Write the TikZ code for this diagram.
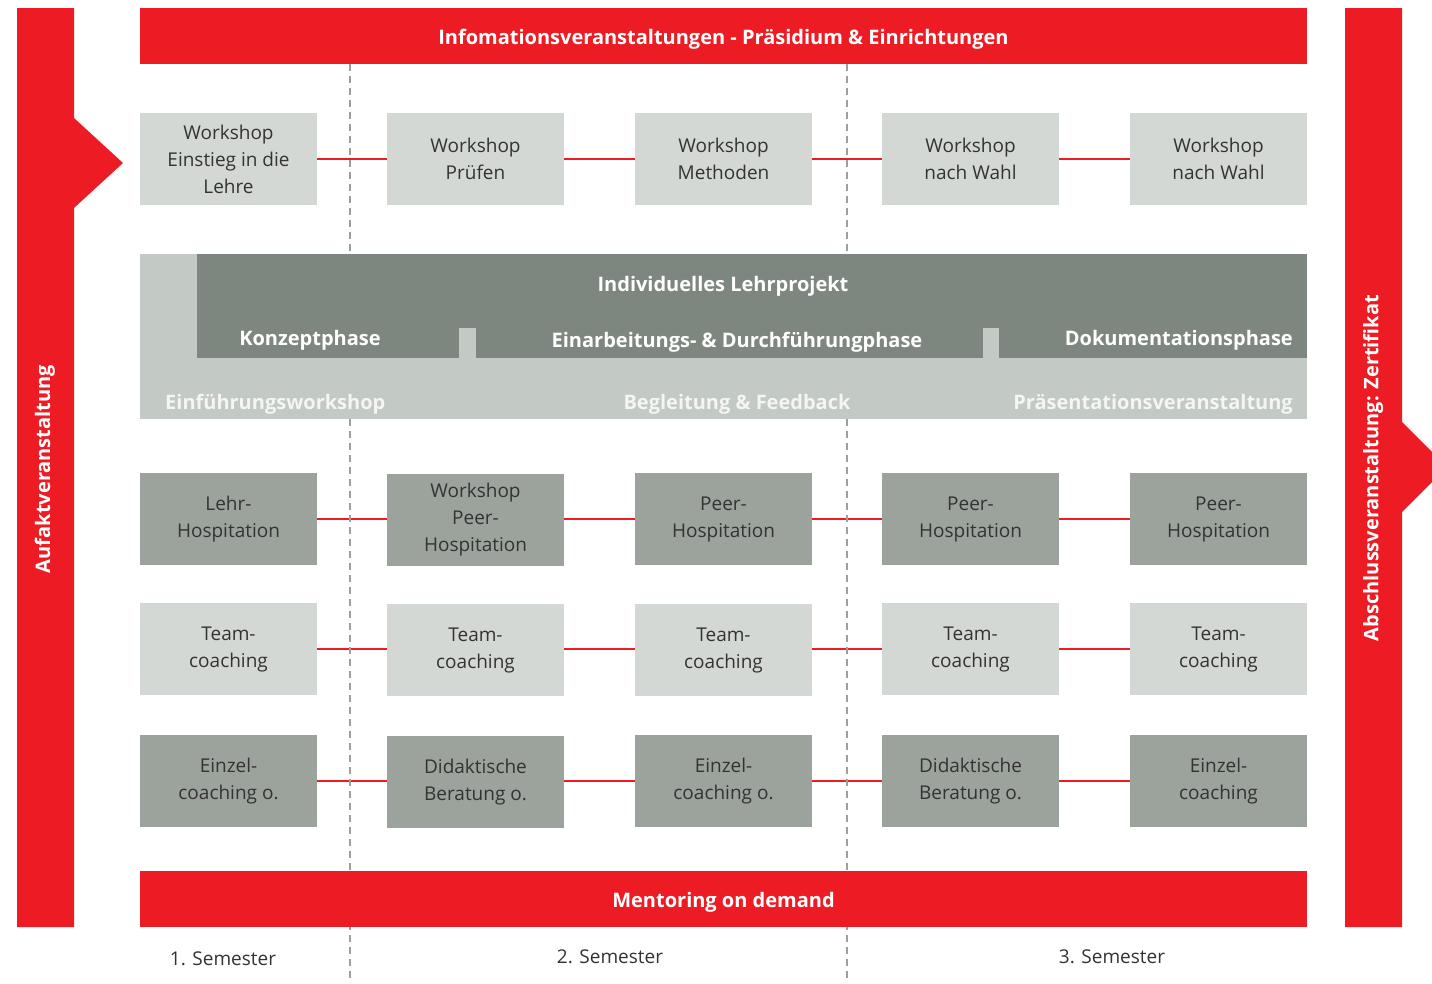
\documentclass[tikz,border=0pt]{standalone}
\usepackage{fontspec}
\setmainfont{Open Sans}
\definecolor{cred}{HTML}{ED1C24}
\definecolor{clight}{HTML}{D4D8D5}
\definecolor{cdark}{HTML}{9BA39C}
\definecolor{cmidl}{HTML}{C3C9C4}
\definecolor{cmidd}{HTML}{7E877F}
\definecolor{cdash}{HTML}{9AA09C}
\definecolor{ctext}{HTML}{333333}
\definecolor{cwhite}{HTML}{F4F5F4}
\begin{document}
\begin{tikzpicture}[x=1pt,y=-1pt,
  box/.style={minimum width=177pt,minimum height=92pt,inner sep=0pt,align=center,text=ctext,font=\fontsize{19}{27}\selectfont},
  lbox/.style={box,fill=clight},
  dbox/.style={box,fill=cdark},
  conn/.style={draw=cred,line width=2pt},
  sep/.style={draw=cdash,line width=2.8pt,dash pattern=on 7pt off 5pt},
  bartext/.style={text=white,font=\fontsize{20}{24}\selectfont\bfseries,inner sep=0pt,yshift=-2pt},
  midtext/.style={text=cwhite,font=\fontsize{20}{24}\selectfont\bfseries,inner sep=0pt,yshift=-2pt},
  semtext/.style={text=ctext,font=\fontsize{19}{24}\selectfont,inner sep=0pt}]
\useasboundingbox (0,0) rectangle (1432,983);
% side bars
\fill[cred] (17,8) -- (74,8) -- (74,118) -- (123,163) -- (74,208) -- (74,927) -- (17,927) -- cycle;
\fill[cred] (1345,8) -- (1402,8) -- (1402,422) -- (1447,467) -- (1402,512) -- (1402,927) -- (1345,927) -- cycle;
\node[bartext,rotate=90] (auf) at (45,467) {Aufaktveranstaltung};
\node[bartext,rotate=90] (absch) at (1373,466) {Abschlussveranstaltung: Zertifikat};
% boxes
\node[lbox] (a1) at (228.5,159) {Workshop\\Einstieg in die\\Lehre};
\node[lbox] (a2) at (475.5,159) {Workshop\\Prüfen};
\node[lbox] (a3) at (723.5,159) {Workshop\\Methoden};
\node[lbox] (a4) at (970.5,159) {Workshop\\nach Wahl};
\node[lbox] (a5) at (1218.5,159) {Workshop\\nach Wahl};
\node[dbox] (b1) at (228.5,519) {Lehr-\\Hospitation};
\node[dbox] (b2) at (475.5,520) {Workshop\\Peer-\\Hospitation};
\node[dbox] (b3) at (723.5,519) {Peer-\\Hospitation};
\node[dbox] (b4) at (970.5,519) {Peer-\\Hospitation};
\node[dbox] (b5) at (1218.5,519) {Peer-\\Hospitation};
\node[lbox] (t1) at (228.5,649) {Team-\\coaching};
\node[lbox] (t2) at (475.5,650) {Team-\\coaching};
\node[lbox] (t3) at (723.5,650) {Team-\\coaching};
\node[lbox] (t4) at (970.5,649) {Team-\\coaching};
\node[lbox] (t5) at (1218.5,649) {Team-\\coaching};
\node[dbox] (e1) at (228.5,781) {Einzel-\\coaching o.};
\node[dbox] (e2) at (475.5,782) {Didaktische\\Beratung o.};
\node[dbox] (e3) at (723.5,781) {Einzel-\\coaching o.};
\node[dbox] (e4) at (970.5,781) {Didaktische\\Beratung o.};
\node[dbox] (e5) at (1218.5,781) {Einzel-\\coaching};
% connectors (horizontal)
\foreach \r in {a,b,t,e}{
  \draw[conn] (\r1.east) -- (\r1.east -| \r2.west);
  \draw[conn] (\r2.east |- \r1.east) -- (\r3.west |- \r1.east);
  \draw[conn] (\r3.east |- \r1.east) -- (\r4.west |- \r1.east);
  \draw[conn] (\r4.east |- \r1.east) -- (\r5.west);}
% dashed separators
\coordinate (s1t) at (350,64); \coordinate (s1m) at (350,254);
\coordinate (s1n) at (350,419); \coordinate (s1b) at (350,983);
\coordinate (s2t) at (847,64); \coordinate (s2m) at (847,254);
\coordinate (s2n) at (847,419); \coordinate (s2b) at (847,983);
\draw[sep] (s1t) -- (s1m); \draw[sep] (s1n) -- (s1b);
\draw[sep] (s2t) -- (s2m); \draw[sep] (s2n) -- (s2b);
% top and bottom bars
\node[fill=cred,minimum width=1167pt,minimum height=56pt,inner sep=0pt,anchor=north west] (top) at (140,8) {};
\node[bartext] (toptext) at (723.5,37) {Infomationsveranstaltungen - Präsidium \& Einrichtungen};
\node[fill=cred,minimum width=1167pt,minimum height=56pt,inner sep=0pt,anchor=north west] (bot) at (140,871) {};
\node[bartext] (bottext) at (723.5,900) {Mentoring on demand};
% middle block
\fill[cmidl] (140,254) rectangle (1307,419);
\fill[cmidd] (197,254) rectangle (1307,358);
\fill[cmidl] (459,328) rectangle (476,358);
\fill[cmidl] (983,328) rectangle (999,358);
\node[midtext,text=white] (ilp) at (723,284) {Individuelles Lehrprojekt};
\node[midtext,text=white] (kp) at (310,338) {Konzeptphase};
\node[midtext,text=white] (edp) at (737,340) {Einarbeitungs- \& Durchführungphase};
\node[midtext,text=white,anchor=east] (dp) at (1293,338) {Dokumentationsphase};
\node[midtext,anchor=west] (ew) at (165,402) {Einführungsworkshop};
\node[midtext] (bf) at (737,402) {Begleitung \& Feedback};
\node[midtext,anchor=east] (pv) at (1293,402) {Präsentationsveranstaltung};
% semesters
\node[semtext] (sem1) at (223,959) {1. Semester};
\node[semtext] (sem2) at (610,957) {2. Semester};
\node[semtext] (sem3) at (1112,957) {3. Semester};
\end{tikzpicture}
\end{document}
